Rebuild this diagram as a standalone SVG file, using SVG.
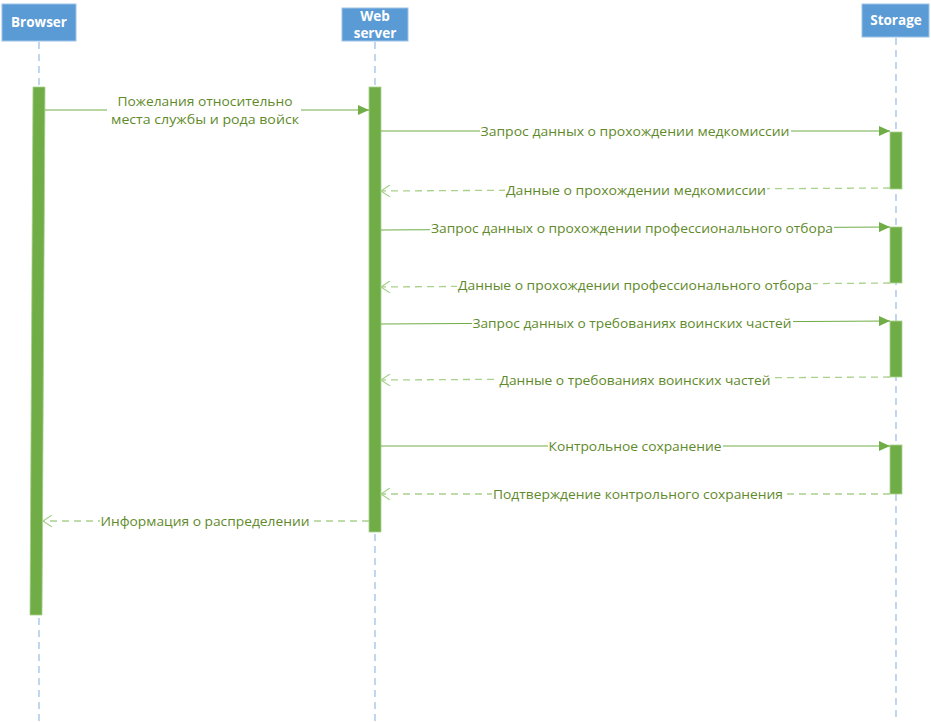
<svg xmlns="http://www.w3.org/2000/svg" width="931" height="722" viewBox="0 0 931 722">
<style>
.box{fill:#5b9bd5;stroke:#9dc3e6;stroke-width:1}
.hd{font-family:"Open Sans","Liberation Sans",sans-serif;font-weight:bold;font-size:13.5px;fill:#ffffff;text-anchor:middle}
.life{stroke:#9dc3e6;stroke-width:1.3;stroke-dasharray:7,5;fill:none}
.act{fill:#70ad47;stroke:#a9d18e;stroke-width:0.8}
.msg{stroke:#70ad47;stroke-width:1.2;fill:none}
.ret{stroke:#a9d18e;stroke-width:1.3;stroke-dasharray:7,5;fill:none}
.lbl{font-family:"Open Sans","Liberation Sans",sans-serif;font-size:13px;fill:#5f8a2b;text-anchor:middle;dominant-baseline:central}
.bg{fill:#ffffff}
</style>
<defs>
<marker id="fill" markerWidth="12" markerHeight="10" refX="11" refY="5" orient="auto" markerUnits="userSpaceOnUse">
<path d="M0,0 L11,5 L0,10 Z" fill="#70ad47"/>
</marker>
<marker id="open" markerWidth="12" markerHeight="12" refX="10" refY="6" orient="auto" markerUnits="userSpaceOnUse">
<path d="M1,0 L10,6 L1,12" fill="none" stroke="#a9d18e" stroke-width="1.2"/>
</marker>
</defs>
<g id="lifelines">
<line class="life" x1="39" y1="42" x2="39" y2="722"/>
<line class="life" x1="375" y1="42" x2="375" y2="722"/>
<line class="life" x1="896" y1="38" x2="896" y2="722"/>
</g>
<g id="browser">
<rect class="box" x="2" y="4" width="74" height="37"/>
<text class="hd" x="39" y="27">Browser</text>
<polygon class="act" points="33,87 45,87 42,615 30,615"/>
</g>
<g id="webserver">
<rect class="box" x="342" y="8" width="66" height="33"/>
<text class="hd" x="375" y="21">Web</text>
<text class="hd" x="375" y="38">server</text>
<rect class="act" x="369" y="87" width="12" height="445"/>
</g>
<g id="storage">
<rect class="box" x="862" y="4" width="67" height="33"/>
<text class="hd" x="896" y="25">Storage</text>
<rect class="act" x="890" y="132" width="12" height="57"/>
<rect class="act" x="890" y="227" width="12" height="56"/>
<rect class="act" x="890" y="321" width="12" height="56"/>
<rect class="act" x="890" y="445" width="12" height="49"/>
</g>
<g id="connectors">
<line class="msg" x1="45" y1="110" x2="369" y2="110" marker-end="url(#fill)"/>
<line class="msg" x1="381" y1="131" x2="890" y2="131" marker-end="url(#fill)"/>
<line class="ret" x1="890" y1="188" x2="381" y2="191" marker-end="url(#open)"/>
<line class="msg" x1="381" y1="230" x2="890" y2="227" marker-end="url(#fill)"/>
<line class="ret" x1="890" y1="283" x2="381" y2="287" marker-end="url(#open)"/>
<line class="msg" x1="381" y1="324" x2="890" y2="321" marker-end="url(#fill)"/>
<line class="ret" x1="890" y1="377" x2="381" y2="380" marker-end="url(#open)"/>
<line class="msg" x1="381" y1="446" x2="890" y2="446" marker-end="url(#fill)"/>
<line class="ret" x1="890" y1="494" x2="381" y2="494" marker-end="url(#open)"/>
<line class="ret" x1="369" y1="521" x2="43" y2="521" marker-end="url(#open)"/>
</g>
<g id="labels">
<rect class="bg" x="107" y="92" width="194" height="36"/>
<text class="lbl" x="205" y="101" textLength="175" lengthAdjust="spacingAndGlyphs">Пожелания относительно</text>
<text class="lbl" x="205" y="119" textLength="188" lengthAdjust="spacingAndGlyphs">места службы и рода войск</text>
<rect class="bg" x="480" y="123" width="311" height="16"/>
<text class="lbl" x="635" y="131" textLength="309" lengthAdjust="spacingAndGlyphs">Запрос данных о прохождении медкомиссии</text>
<rect class="bg" x="505" y="182" width="262" height="16"/>
<text class="lbl" x="636" y="190" textLength="260" lengthAdjust="spacingAndGlyphs">Данные о прохождении медкомиссии</text>
<rect class="bg" x="430" y="220" width="404" height="16"/>
<text class="lbl" x="632" y="228" textLength="402" lengthAdjust="spacingAndGlyphs">Запрос данных о прохождении профессионального отбора</text>
<rect class="bg" x="457" y="277" width="356" height="16"/>
<text class="lbl" x="635" y="285" textLength="354" lengthAdjust="spacingAndGlyphs">Данные о прохождении профессионального отбора</text>
<rect class="bg" x="472" y="315" width="321" height="16"/>
<text class="lbl" x="632" y="323" textLength="319" lengthAdjust="spacingAndGlyphs">Запрос данных о требованиях воинских частей</text>
<rect class="bg" x="499" y="372" width="273" height="16"/>
<text class="lbl" x="635" y="380" textLength="271" lengthAdjust="spacingAndGlyphs">Данные о требованиях воинских частей</text>
<rect class="bg" x="548" y="438" width="175" height="16"/>
<text class="lbl" x="635" y="446" textLength="173" lengthAdjust="spacingAndGlyphs">Контрольное сохранение</text>
<rect class="bg" x="492" y="486" width="292" height="16"/>
<text class="lbl" x="638" y="494" textLength="290" lengthAdjust="spacingAndGlyphs">Подтверждение контрольного сохранения</text>
<rect class="bg" x="100" y="513" width="211" height="16"/>
<text class="lbl" x="205" y="521" textLength="209" lengthAdjust="spacingAndGlyphs">Информация о распределении</text>
</g>
</svg>
